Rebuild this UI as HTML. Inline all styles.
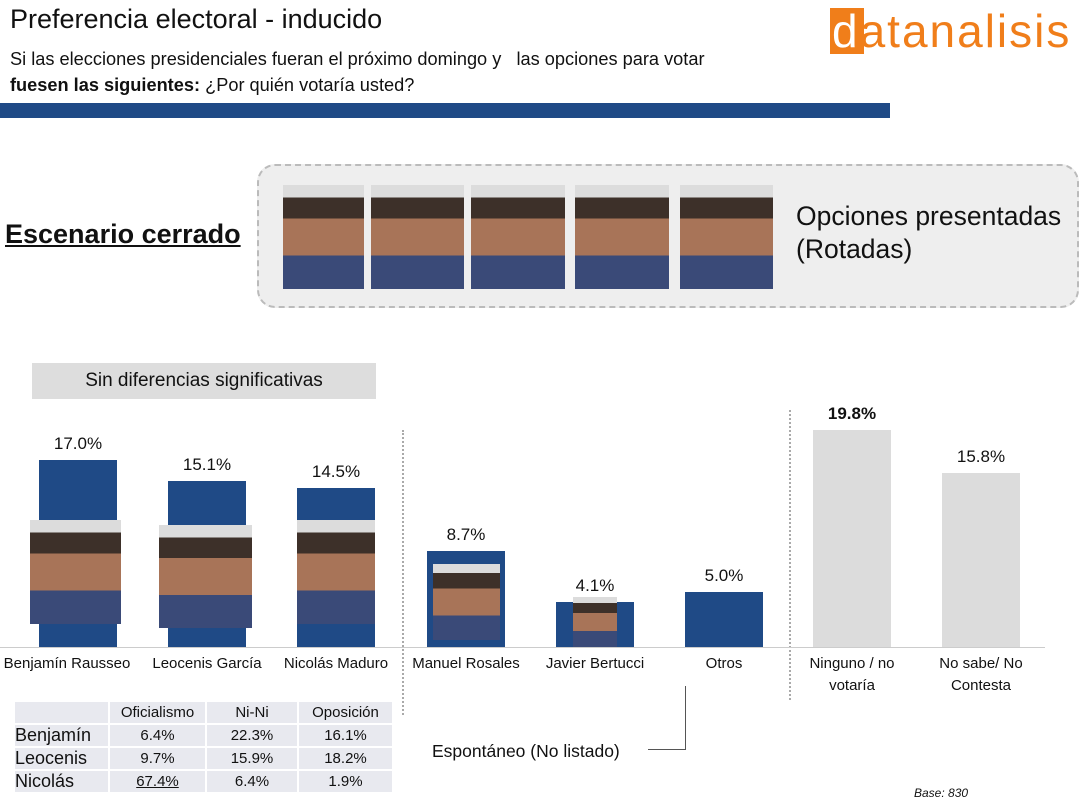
<!DOCTYPE html><html><head><meta charset="utf-8"><style>
body{margin:0;width:1080px;height:806px;background:#fff;font-family:"Liberation Sans",sans-serif;position:relative;overflow:hidden;color:#111}
.a{position:absolute}
.bar{position:absolute;background:#1f4a86}
.g{position:absolute;background:#dcdcdc}
.v{position:absolute;font-size:17px;text-align:center;width:100px}
.lb{position:absolute;font-size:15px;text-align:center;width:130px;line-height:22px}
.ph{position:absolute;background:linear-gradient(#dcdcdc 0 12%,#3d3029 12% 32%,#a87458 32% 68%,#3a4a78 68%)}
table{border-collapse:separate;border-spacing:2px;font-size:15px}
td{background:#e8e9ef;height:21px;padding:0;text-align:center}
</style></head><body>
<div class="a" style="left:10px;top:4px;font-size:27px">Preferencia electoral - inducido</div>
<div class="a" style="left:10px;top:49px;font-size:18.2px">Si las elecciones presidenciales fueran el próximo domingo y &nbsp; las opciones para votar</div>
<div class="a" style="left:10px;top:75px;font-size:18.2px"><b>fuesen las siguientes:</b> ¿Por quién votaría usted?</div>
<div class="a" style="left:0;top:103px;width:890px;height:15px;background:#1f4a86"></div>
<div class="a" style="left:830px;top:8px;width:34px;height:46px;background:#f07e1a"></div>
<div class="a" style="left:832px;top:4px;font-size:46px;color:#f07e1a;letter-spacing:2px"><span style="color:#fff">d</span>atanalisis</div>
<div class="a" style="left:5px;top:219px;font-size:27px;font-weight:bold;text-decoration:underline">Escenario cerrado</div>
<div class="a" style="left:257px;top:164px;width:818px;height:140px;border:2px dashed #bbb;border-radius:18px;background:#eee"></div>
<div class="ph" style="left:283px;top:185px;width:81px;height:104px"></div>
<div class="ph" style="left:371px;top:185px;width:93px;height:104px"></div>
<div class="ph" style="left:471px;top:185px;width:94px;height:104px"></div>
<div class="ph" style="left:575px;top:185px;width:94px;height:104px"></div>
<div class="ph" style="left:680px;top:185px;width:93px;height:104px"></div>
<div class="a" style="left:796px;top:200px;font-size:26.5px;line-height:33px">Opciones presentadas<br>(Rotadas)</div>
<div class="a" style="left:32px;top:363px;width:344px;height:36px;background:#ddd;font-size:19px;text-align:center;line-height:36px">Sin diferencias significativas</div>
<div class="a" style="left:402px;top:430px;height:285px;border-left:2px dotted #aaa"></div>
<div class="a" style="left:789px;top:410px;height:290px;border-left:2px dotted #aaa"></div>
<div class="a" style="left:0;top:647px;width:1045px;height:1px;background:#ccc"></div>
<div class="bar" style="left:39px;top:460px;width:78px;height:187px"></div>
<div class="bar" style="left:168px;top:481px;width:78px;height:166px"></div>
<div class="bar" style="left:297px;top:488px;width:78px;height:159px"></div>
<div class="bar" style="left:427px;top:551px;width:78px;height:96px"></div>
<div class="bar" style="left:556px;top:602px;width:78px;height:45px"></div>
<div class="bar" style="left:685px;top:592px;width:78px;height:55px"></div>
<div class="g" style="left:813px;top:430px;width:78px;height:217px"></div>
<div class="g" style="left:942px;top:473px;width:78px;height:174px"></div>
<div class="ph" style="left:30px;top:520px;width:91px;height:104px"></div>
<div class="ph" style="left:159px;top:525px;width:93px;height:103px"></div>
<div class="ph" style="left:297px;top:520px;width:78px;height:104px"></div>
<div class="ph" style="left:433px;top:564px;width:67px;height:76px"></div>
<div class="ph" style="left:573px;top:597px;width:44px;height:50px"></div>
<div class="v" style="left:28px;top:434px">17.0%</div>
<div class="v" style="left:157px;top:455px">15.1%</div>
<div class="v" style="left:286px;top:462px">14.5%</div>
<div class="v" style="left:416px;top:525px">8.7%</div>
<div class="v" style="left:545px;top:576px">4.1%</div>
<div class="v" style="left:674px;top:566px">5.0%</div>
<div class="v" style="left:802px;top:404px;font-weight:bold">19.8%</div>
<div class="v" style="left:931px;top:447px">15.8%</div>
<div class="lb" style="left:-8px;top:653px;width:150px">Benjamín Rausseo</div>
<div class="lb" style="left:142px;top:653px">Leocenis García</div>
<div class="lb" style="left:271px;top:653px">Nicolás Maduro</div>
<div class="lb" style="left:401px;top:653px">Manuel Rosales</div>
<div class="lb" style="left:530px;top:653px">Javier Bertucci</div>
<div class="lb" style="left:659px;top:653px">Otros</div>
<div class="lb" style="left:787px;top:653px">Ninguno / no<br>votaría</div>
<div class="lb" style="left:916px;top:653px">No sabe/ No<br>Contesta</div>
<div class="a" style="left:685px;top:686px;height:63px;border-left:1px solid #555"></div>
<div class="a" style="left:648px;top:749px;width:38px;border-top:1px solid #555"></div>
<div class="a" style="left:432px;top:741px;font-size:17.5px">Espontáneo (No listado)</div>
<div class="a" style="left:914px;top:786px;font-size:12px;font-style:italic">Base: 830</div>
<table class="a" style="left:13px;top:700px">
<tr><td style="width:93px"></td><td style="width:95px">Oficialismo</td><td style="width:90px">Ni-Ni</td><td style="width:93px">Oposición</td></tr>
<tr><td style="text-align:left;font-size:18px">Benjamín</td><td>6.4%</td><td>22.3%</td><td>16.1%</td></tr>
<tr><td style="text-align:left;font-size:18px">Leocenis</td><td>9.7%</td><td>15.9%</td><td>18.2%</td></tr>
<tr><td style="text-align:left;font-size:18px">Nicolás</td><td><u>67.4%</u></td><td>6.4%</td><td>1.9%</td></tr>
</table>
</body></html>
